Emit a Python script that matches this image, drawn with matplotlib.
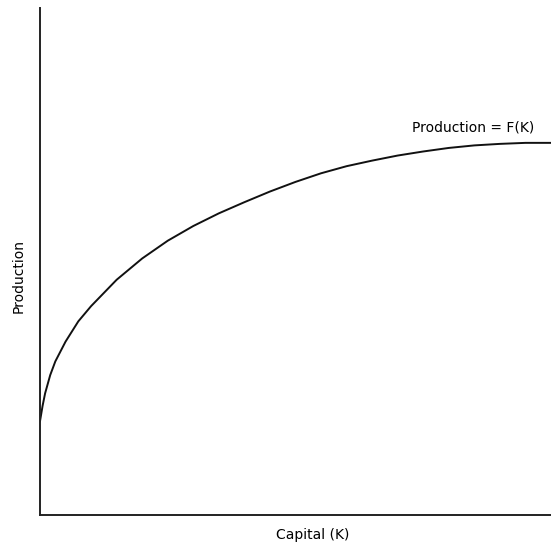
import numpy as np
import matplotlib.pyplot as plt

# capital K and production F(K)
capital = [0.0, 0.05, 0.1, 0.2, 0.3, 0.5, 0.75, 1.0, 1.5, 2.0, 2.5, 3.0, 3.5,
           4.0, 4.5, 5.0, 5.5, 6.0, 6.5, 7.0, 7.5, 8.0, 8.5, 9.0, 9.5, 10.0]
production = [1.85, 2.15, 2.40, 2.76, 3.03, 3.42, 3.82, 4.12, 4.64, 5.06, 5.41, 5.70, 5.95,
              6.17, 6.38, 6.57, 6.74, 6.88, 6.99, 7.09, 7.17, 7.24, 7.29, 7.32, 7.34, 7.34]
curve_label = 'Production = F(K)'
x_label = 'Capital (K)'
y_label = 'Production'

plt.rcParams['font.family'] = ['DejaVu Sans']
fig = plt.figure(figsize=(5.51, 5.48), dpi=100)
ax = fig.add_axes([40/551, 33/548, 511/551, 507/548])
ax.plot(capital, production, color='#111111', lw=1.4)
ax.set_xlim(0, 10)
ax.set_ylim(0, 10)
for s in ['top', 'right']:
    ax.spines[s].set_visible(False)
for s in ['left', 'bottom']:
    ax.spines[s].set_linewidth(1.4)
    ax.spines[s].set_color('#222222')
ax.set_xticks([])
ax.set_yticks([])
ax.text(7.28, 7.65, curve_label, fontsize=10, ha='left', va='center')
fig.text(313/551, 1 - 535/548, x_label, fontsize=10, ha='center', va='center')
fig.text(19/551, 1 - 276/548, y_label, fontsize=10, ha='center', va='center', rotation=90)
fig.savefig('out.png', dpi=100)
